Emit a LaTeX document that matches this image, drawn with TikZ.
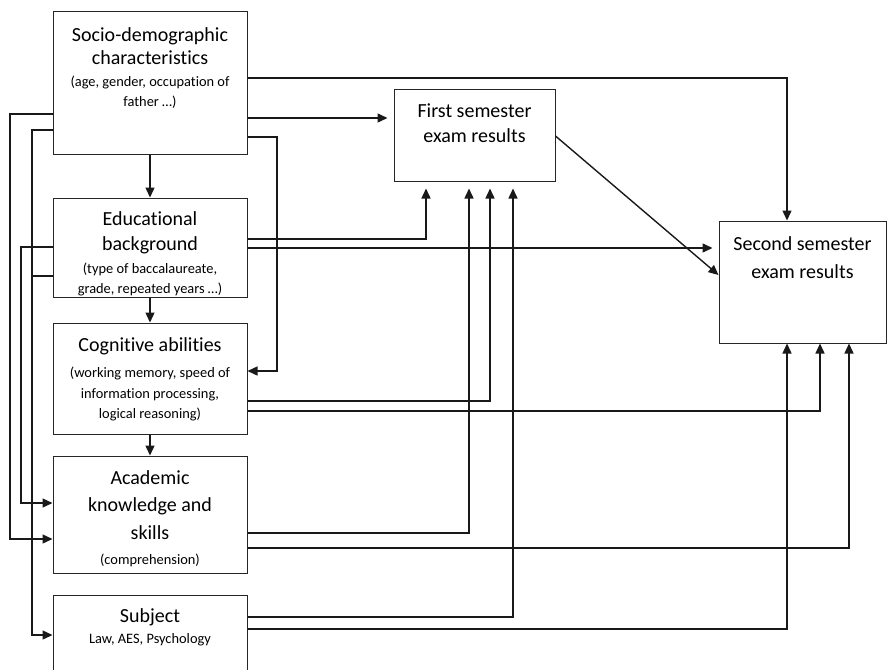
\documentclass[tikz,border=0pt]{standalone}
\usepackage{fontspec}
\setmainfont{Carlito}[Ligatures=NoCommon]
\usetikzlibrary{arrows.meta}
\begin{document}
\begin{tikzpicture}[x=1pt,y=-1pt,
  box/.style={draw=black!85, line width=1pt, inner sep=0pt},
  ln/.style={line width=1.4pt, black!90},
  arr/.style={ln, -{Triangle[length=10pt,width=9pt]}},
  txt/.style={inner sep=0pt, align=center, anchor=north, font=\fontsize{14.4}{19.5}\selectfont},
  big/.style={font=\fontsize{20}{24}\selectfont}
]
\useasboundingbox (0,0) rectangle (888,669);
% boxes
\node[box, minimum width=194pt, minimum height=142pt] (socio) at (150,83) {};
\node[box, minimum width=194pt, minimum height=99pt] (edu) at (150,247.5) {};
\node[box, minimum width=194pt, minimum height=111pt] (cog) at (150,378.5) {};
\node[box, minimum width=194pt, minimum height=117pt] (acad) at (150,514.5) {};
\node[box, minimum width=194pt, minimum height=105pt] (subj) at (150,647.5) {};
\node[box, minimum width=161pt, minimum height=92pt] (first) at (474.5,135) {};
\node[box, minimum width=167pt, minimum height=122pt] (second) at (802.5,282) {};
% texts
\node[txt] (socioT) at (150,27.5) {{\fontsize{20}{19.5}\selectfont Socio-demographic}\\[3.5pt]{\fontsize{20}{19.5}\selectfont characteristics}\\[2.5pt](age, gender, occupation of\\father …)};
\node[txt] (eduT) at (150,211) {{\fontsize{20}{19.5}\selectfont Educational}\\[5.5pt]{\fontsize{20}{19.5}\selectfont background}\\[4pt](type of baccalaureate,\\grade, repeated years …)};
\node[txt] (cogT) at (150,337) {{\fontsize{20}{19.5}\selectfont Cognitive abilities}\\[6.5pt](working memory, speed of\\[1.5pt]information processing,\\[0.5pt]logical reasoning)};
\node[txt] (acadT) at (150,470) {{\fontsize{20}{19.5}\selectfont Academic}\\[7.5pt]{\fontsize{20}{19.5}\selectfont knowledge and}\\[8.5pt]{\fontsize{20}{19.5}\selectfont skills}\\[5.5pt](comprehension)};
\node[txt] (subjT) at (150,608.5) {{\fontsize{20}{19.5}\selectfont Subject}\\[1.5pt]Law, AES, Psychology};
\node[txt, font=\fontsize{20}{25}\selectfont] (firstT) at (474.5,104) {First semester\\exam results};
\node[txt, font=\fontsize{20}{28}\selectfont] (secondT) at (802.5,236) {Second semester\\exam results};
% vertical chain
\draw[arr] (socio.south) -- (edu.north);
\draw[arr] (edu.south) -- (cog.north);
\draw[arr] (cog.south) -- (acad.north);
% socio to the right
\draw[arr] (socio.east |- 0,78) -| (second.north -| 787,0);
\draw[arr, shorten >=6pt] (socio.east |- 0,118) -- (first.west |- 0,118);
\draw[arr] (socio.east |- 0,137) -| (277,371) -- (cog.east |- 0,371);
% left side
\draw[arr] (socio.west |- 0,114) -| (10,539) -- (acad.west |- 0,539);
\draw[arr] (socio.west |- 0,130) -| (32,635) -- (subj.west |- 0,635);
\draw[arr] (edu.west |- 0,247) -| (21,503) -- (acad.west |- 0,503);
\draw[ln] (edu.west |- 0,276) -- (32,276);
% educational to the right
\draw[arr, shorten >=7pt] (edu.east |- 0,239) -| (first.south -| 426,0);
\draw[arr, shorten >=6pt] (edu.east |- 0,248) -- (second.west |- 0,248);
% first to second
\draw[arr] (first.east |- 0,136) -- (second.west |- 0,275);
% cognitive to the right
\draw[arr, shorten >=7pt] (cog.east |- 0,401) -| (first.south -| 490,0);
\draw[arr] (cog.east |- 0,411) -| (second.south -| 820,0);
% academic to the right
\draw[arr, shorten >=7pt] (acad.east |- 0,533) -| (first.south -| 469,0);
\draw[arr] (acad.east |- 0,548) -| (second.south -| 849,0);
% subject to the right
\draw[arr, shorten >=7pt] (subj.east |- 0,617) -| (first.south -| 513,0);
\draw[arr] (subj.east |- 0,629) -| (second.south -| 787,0);
\end{tikzpicture}
\end{document}
